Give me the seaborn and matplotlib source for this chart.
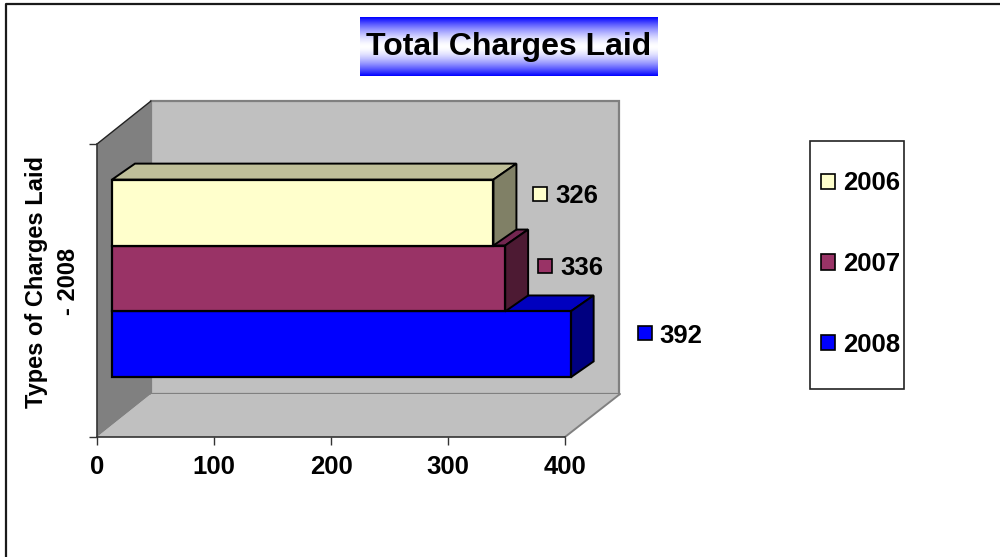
import numpy as np
import pandas as pd
import seaborn as sns
import matplotlib.pyplot as plt
from matplotlib.lines import Line2D
from matplotlib.patches import Polygon, Rectangle
from matplotlib.transforms import Affine2D

years = ['2006', '2007', '2008']
charges = [326, 336, 392]
colors = ['#FFFFCC', '#993366', '#0000FF']
side_colors = ['#808066', '#4D1A33', '#000080']
top_colors = ['#BFBF99', '#732650', '#0000BF']
title = 'Total Charges Laid'
ylabel = 'Types of Charges Laid\n- 2008'

W, H = 1000, 557
sns.set_style('white')
plt.rcParams['font.family'] = ['Liberation Sans', 'DejaVu Sans']
plt.rcParams['font.weight'] = 'bold'
plt.rcParams['text.color'] = 'black'
plt.rcParams['axes.labelcolor'] = 'black'
plt.rcParams['xtick.color'] = 'black'
plt.rcParams['ytick.color'] = 'black'

df = pd.DataFrame({'cat': [''] * 3, 'year': years, 'charges': charges})

fig = plt.figure(figsize=(10, 5.57), dpi=100)
# axes box in image pixels: x 97-565, y 144-437
ax = fig.add_axes([97 / W, 1 - 437 / H, 468 / W, 293 / H])

sns.barplot(data=df, y='cat', x='charges', hue='year', hue_order=years,
            palette=colors, width=0.675, gap=0, saturation=1, legend=False,
            edgecolor='black', linewidth=1.6, ax=ax, zorder=5)
ax.set_xlim(0, 400)
ax.set_ylim(0.5, -0.5)
ax.set_xticks([0, 100, 200, 300, 400])
ax.set_yticks([-0.5, 0.5])
ax.set_yticklabels(['', ''])
ax.set_xlabel('')
ax.set_ylabel(ylabel, fontsize=17, fontweight='bold', labelpad=3, linespacing=1.5, y=0.53)
ax.tick_params(axis='x', length=6, width=1, color='#333333', labelsize=18.5, pad=7, bottom=True)
ax.tick_params(axis='y', length=6, width=1, color='#333333', left=True)
ax.patch.set_alpha(0)
for name, sp in ax.spines.items():
    sp.set_visible(name in ('left', 'bottom'))
    sp.set_color('#333333')
    sp.set_linewidth(1.2)
    sp.set_zorder(4)

# 3D box around the plot, offset in pixels
wall_dx, wall_dy = 54, 43
wall_shift = ax.transAxes + Affine2D().translate(wall_dx, wall_dy)
ax.add_patch(Rectangle((0, 0), 1, 1, transform=wall_shift, facecolor='#C0C0C0',
                       edgecolor='#808080', linewidth=1.6, clip_on=False, zorder=1))


def box_side(points, **kw):
    # points are axes-fraction corners, True means pushed back to the rear wall
    disp = [ax.transAxes.transform((x, y)) + (np.array([wall_dx, wall_dy]) if back else 0)
            for x, y, back in points]
    ax.add_patch(Polygon(disp, closed=True, transform=None, clip_on=False, **kw))


box_side([(0, 0, False), (1, 0, False), (1, 0, True), (0, 0, True)],
         facecolor='#C0C0C0', edgecolor='none', zorder=2)
box_side([(0, 0, False), (0, 1, False), (0, 1, True), (0, 0, True)],
         facecolor='#808080', edgecolor='none', zorder=2)
ax.add_line(Line2D([97, 151], [H - 144, H - 101], transform=None, color='#222222', lw=1, clip_on=False, zorder=3))
ax.add_line(Line2D([565, 620], [H - 437, H - 394], transform=None, color='#808080', lw=1.4, clip_on=False, zorder=3))

# bars sit inside the box: shift them, then add the top and side faces
bar_dx, bar_dy = 15, 12
depth_dx, depth_dy = 23, 16
bar_shift = ax.transData + Affine2D().translate(bar_dx, bar_dy)
bars = list(ax.containers)
n = len(years)
for i in range(n):
    patch = bars[i][0]
    patch.set_transform(bar_shift)
    patch.set_clip_on(False)
    # upper bars are drawn over the lower ones
    z = 6 + (n - i) * 2
    patch.set_zorder(z + 1)
    x0, y0 = patch.get_x(), patch.get_y()
    w, h = patch.get_width(), patch.get_height()
    tl = bar_shift.transform((x0, y0))
    tr = bar_shift.transform((x0 + w, y0))
    br = bar_shift.transform((x0 + w, y0 + h))
    d = np.array([depth_dx, depth_dy])
    ax.add_patch(Polygon([tl, tr, tr + d, tl + d], closed=True, transform=None, clip_on=False,
                         facecolor=top_colors[i], edgecolor='black', linewidth=1.4, zorder=z))
    ax.add_patch(Polygon([tr, br, br + d, tr + d], closed=True, transform=None, clip_on=False,
                         facecolor=side_colors[i], edgecolor='black', linewidth=1.4, zorder=z))

# value labels with their little keys, placed from each bar's end
label_offsets = [(47, 19), (40, 13), (74, 11)]
for i, (value, (ox, oy)) in enumerate(zip(charges, label_offsets)):
    patch = bars[i][0]
    end = bar_shift.transform((patch.get_width(), patch.get_y() + patch.get_height() / 2))
    cx, cy = end[0] + ox, end[1] + oy
    ax.add_patch(Rectangle((cx - 7, cy - 7), 14, 14, transform=None, facecolor=colors[i],
                           edgecolor='black', linewidth=1.2, clip_on=False, zorder=20))
    ax.text(cx + 15, cy, str(value), transform=None, fontsize=18.5, fontweight='bold',
            ha='left', va='center_baseline', color='black', zorder=20)

# legend: frame drawn apart since the keys sit off centre in the box
fig.add_artist(Rectangle((810 / W, 1 - 389 / H), 94 / W, 248 / H, transform=fig.transFigure,
                         facecolor='white', edgecolor='#222222', linewidth=1.2))
handles = [Rectangle((0, 0), 1, 1, facecolor=c, edgecolor='black', linewidth=1.2) for c in colors]
leg = fig.legend(handles, years, loc='upper left', bbox_to_anchor=(821 / W, 1 - 171.5 / H),
                 bbox_transform=fig.transFigure, frameon=False, fontsize=18.5, handlelength=0.56,
                 handleheight=0.56, handletextpad=0.32, labelspacing=2.2, borderpad=0, borderaxespad=0)

# title on a blue-white-blue gradient band
tax = fig.add_axes([360 / W, 1 - 76 / H, 298 / W, 59 / H])
grad = np.abs(np.linspace(-1, 1, 200)) ** 1.6
rgb = np.dstack([1 - grad, 1 - grad, np.ones_like(grad)]).reshape(200, 1, 3)
tax.imshow(rgb, aspect='auto', extent=(0, 1, 0, 1), interpolation='bilinear')
tax.axis('off')
tax.text(0.5, 0.5, title, transform=tax.transAxes, ha='center', va='center',
         fontsize=23, fontweight='bold', color='black')

# outer chart border, only top and left are inside the image
fig.add_artist(Line2D([5.5 / W, 5.5 / W, 1], [0, 1 - 3.5 / H, 1 - 3.5 / H], transform=fig.transFigure,
                      color='#1a1a1a', lw=1.6))

fig.savefig('out.png', dpi=100)
